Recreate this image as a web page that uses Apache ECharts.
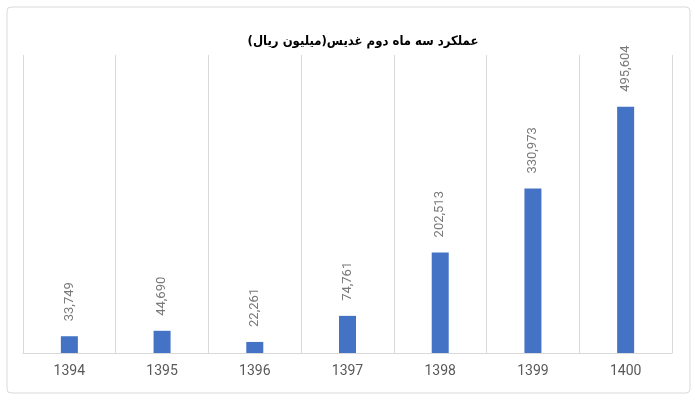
<!DOCTYPE html>
<html>
<head>
<meta charset="utf-8">
<script src="https://cdn.jsdelivr.net/npm/echarts@6/dist/echarts.min.js"></script>
<style>
html,body{margin:0;padding:0;background:#fff;}
#chart{width:700px;height:400px;}
</style>
</head>
<body>
<div id="chart"></div>
<script>
var years = ['1394','1395','1396','1397','1398','1399','1400'];
var values = [33749, 44690, 22261, 74761, 202513, 330973, 495604];
var titleText = 'عملکرد سه ماه دوم غدیس(میلیون ریال)';

var chart = echarts.init(document.getElementById('chart'));
chart.setOption({
    animation: false,
    title: {
        text: titleText,
        left: 358,
        top: 30,
        textAlign: 'center',
        textStyle: {fontFamily: 'DejaVu Sans Condensed', fontWeight: 'bold', fontSize: 13, color: '#000'}
    },
    graphic: [{
        type: 'rect',
        shape: {x: 7, y: 7, width: 683, height: 386, r: 4},
        style: {fill: 'none', stroke: '#d9d9d9', lineWidth: 1}
    }],
    grid: {left: 23, right: 28, top: 55, bottom: 47},
    xAxis: {
        type: 'category',
        data: years,
        axisTick: {show: false},
        axisLine: {lineStyle: {color: '#d9d9d9'}},
        splitLine: {show: true, lineStyle: {color: '#d9d9d9'}},
        axisLabel: {color: '#595959', fontSize: 14, margin: 11, fontFamily: 'Roboto'}
    },
    yAxis: {
        type: 'value',
        min: 0,
        max: 600000,
        show: false
    },
    series: [{
        type: 'bar',
        data: values,
        barWidth: 17,
        itemStyle: {color: '#4472C4'},
        label: {
            show: true,
            position: 'top',
            rotate: 90,
            align: 'left',
            verticalAlign: 'middle',
            distance: 15,
            color: '#7a7a7a',
            fontSize: 13,
            fontFamily: 'Roboto',
            formatter: function (p) { return p.value.toLocaleString('en-US'); }
        }
    }]
});
</script>
</body>
</html>
